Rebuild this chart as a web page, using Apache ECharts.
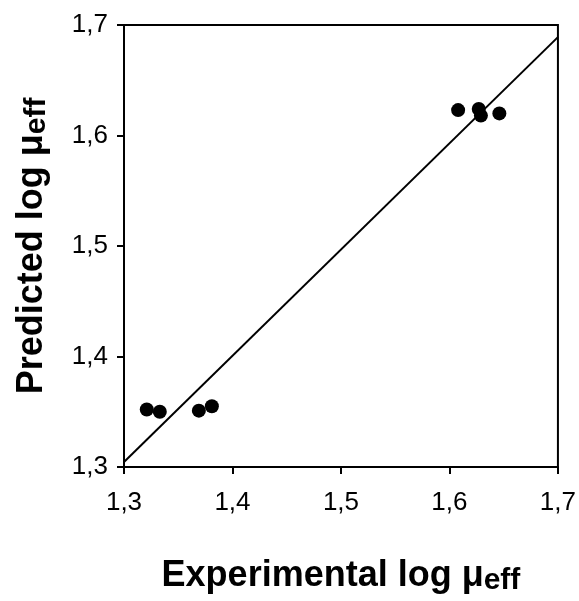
<!DOCTYPE html>
<html>
<head>
<meta charset="utf-8">
<script src="https://cdn.jsdelivr.net/npm/echarts@6/dist/echarts.min.js"></script>
<style>html,body{margin:0;padding:0;background:#fff;}#c{width:579px;height:601px;}</style>
</head>
<body>
<div id="c"></div>
<script>
var experimental = [1.321, 1.333, 1.369, 1.381, 1.608, 1.627, 1.629, 1.646];
var predicted    = [1.352, 1.350, 1.351, 1.355, 1.623, 1.624, 1.618, 1.620];
var fitX = [1.3, 1.7];
var fitY = [1.3045, 1.689];
var xTicks = ['1,3', '1,4', '1,5', '1,6', '1,7'];
var yTicks = ['1,3', '1,4', '1,5', '1,6', '1,7'];

var pts = experimental.map(function (x, i) { return [x, predicted[i]]; });
var fit = fitX.map(function (x, i) { return [x, fitY[i]]; });
var fmt = function (v) { return xTicks[Math.round((v - 1.3) * 10)]; };
var fmtY = function (v) { return yTicks[Math.round((v - 1.3) * 10)]; };
var font = '"Liberation Sans", Arial, sans-serif';

var chart = echarts.init(document.getElementById('c'));
chart.setOption({
  animation: false,
  backgroundColor: '#fff',
  grid: { left: 124, top: 25, right: 20, bottom: 129, show: true, borderColor: '#000', borderWidth: 2, backgroundColor: 'transparent' },
  xAxis: {
    type: 'value', min: 1.3, max: 1.7, interval: 0.1,
    axisLine: { lineStyle: { color: '#000', width: 2 } },
    axisTick: { show: true, length: 7, lineStyle: { color: '#000', width: 2 } },
    splitLine: { show: false },
    axisLabel: { color: '#000', fontSize: 26, fontFamily: font, margin: 23, formatter: fmt },
    name: '{a|Experimental log μ}{b|eff}',
    nameLocation: 'middle', nameGap: 89,
    nameTextStyle: {
      rich: {
        a: { fontSize: 36, fontWeight: 'bold', fontFamily: font, color: '#000' },
        b: { fontSize: 30, fontWeight: 'bold', fontFamily: font, color: '#000', padding: [10, 0, 0, 0] }
      }
    }
  },
  yAxis: {
    type: 'value', min: 1.3, max: 1.7, interval: 0.1,
    axisLine: { lineStyle: { color: '#000', width: 2 } },
    axisTick: { show: true, length: 7, lineStyle: { color: '#000', width: 2 } },
    splitLine: { show: false },
    axisLabel: { color: '#000', fontSize: 26, fontFamily: font, margin: 16, formatter: fmtY },
    name: '{a|Predicted log μ}{b|eff}',
    nameLocation: 'middle', nameGap: 72, nameRotate: 90,
    nameTextStyle: {
      rich: {
        a: { fontSize: 36, fontWeight: 'bold', fontFamily: font, color: '#000' },
        b: { fontSize: 30, fontWeight: 'bold', fontFamily: font, color: '#000', padding: [10, 0, 0, 0] }
      }
    }
  },
  series: [
    { type: 'line', data: fit, symbol: 'none', lineStyle: { color: '#000', width: 2 }, z: 2 },
    { type: 'scatter', data: pts, symbol: 'circle', symbolSize: 14, itemStyle: { color: '#000', opacity: 1 }, z: 3 }
  ]
});
</script>
</body>
</html>
